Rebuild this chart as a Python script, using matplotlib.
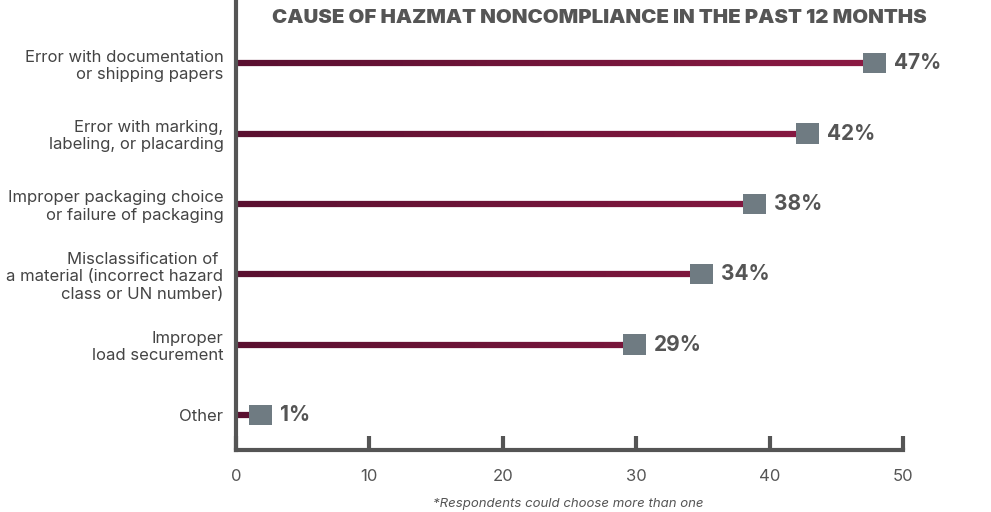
import matplotlib
matplotlib.use("Agg")
import matplotlib.pyplot as plt
import numpy as np
from matplotlib.collections import LineCollection
from matplotlib.colors import to_rgb

categories = [
    "Error with documentation\nor shipping papers",
    "Error with marking,\nlabeling, or placarding",
    "Improper packaging choice\nor failure of packaging",
    "Misclassification of \na material (incorrect hazard\nclass or UN number)",
    "Improper\nload securement",
    "Other",
]
values = [47, 42, 38, 34, 29, 1]
xticks = [0, 10, 20, 30, 40, 50]
title = "CAUSE OF HAZMAT NONCOMPLIANCE IN THE PAST 12 MONTHS"
footnote = "*Respondents could choose more than one"

plt.rcParams['font.family'] = ['Inter', 'DejaVu Sans']
fig = plt.figure(figsize=(9.91, 5.12), dpi=100)
ax = fig.add_axes([236/991, 1 - 450/512, (903-236)/991, 450/512])

grey = "#555555"
c0 = np.array(to_rgb("#5a1030"))
c1 = np.array(to_rgb("#8e1a44"))

for i, v in enumerate(values):
    n = 60
    xs = np.linspace(0, v, n + 1)
    segs = [[(xs[k], i), (xs[k+1], i)] for k in range(n)]
    cols = [c0 + (c1 - c0) * (k / n) * (v / 50) for k in range(n)]
    lc = LineCollection(segs, colors=cols, linewidths=4.5, capstyle='butt', zorder=2)
    ax.add_collection(lc)
    ax.barh(i, 1.72, left=v, height=0.29, color="#6f7b82", zorder=3)
    ax.text(v + 1.72 + 0.6, i, f"{v}%", va='center', ha='left',
            fontsize=15, fontweight='bold', color=grey, zorder=4)

ax.set_xlim(0, 50)
ax.set_ylim(5.5, -0.9)
ax.set_yticks(range(len(categories)))
ax.set_yticklabels(categories, fontsize=12, color="#444444", linespacing=1.2)
ax.tick_params(axis='y', length=0, pad=9)
ax.set_xticks(xticks)
ax.set_xticklabels([str(t) for t in xticks], fontsize=12, color=grey)
ax.tick_params(axis='x', direction='in', length=10, width=3, color=grey, pad=14)

for s in ['top', 'right']:
    ax.spines[s].set_visible(False)
for s in ['left', 'bottom']:
    ax.spines[s].set_color(grey)
    ax.spines[s].set_linewidth(3)

fig.text(599/991, 1 - 18/512, title, ha='center', va='center',
         fontsize=14.7, fontweight='black', color=grey)
fig.text(568/991, 1 - 504/512, footnote, ha='center', va='center',
         fontsize=9.5, style='italic', color=grey)

fig.savefig("out.png", dpi=100)
